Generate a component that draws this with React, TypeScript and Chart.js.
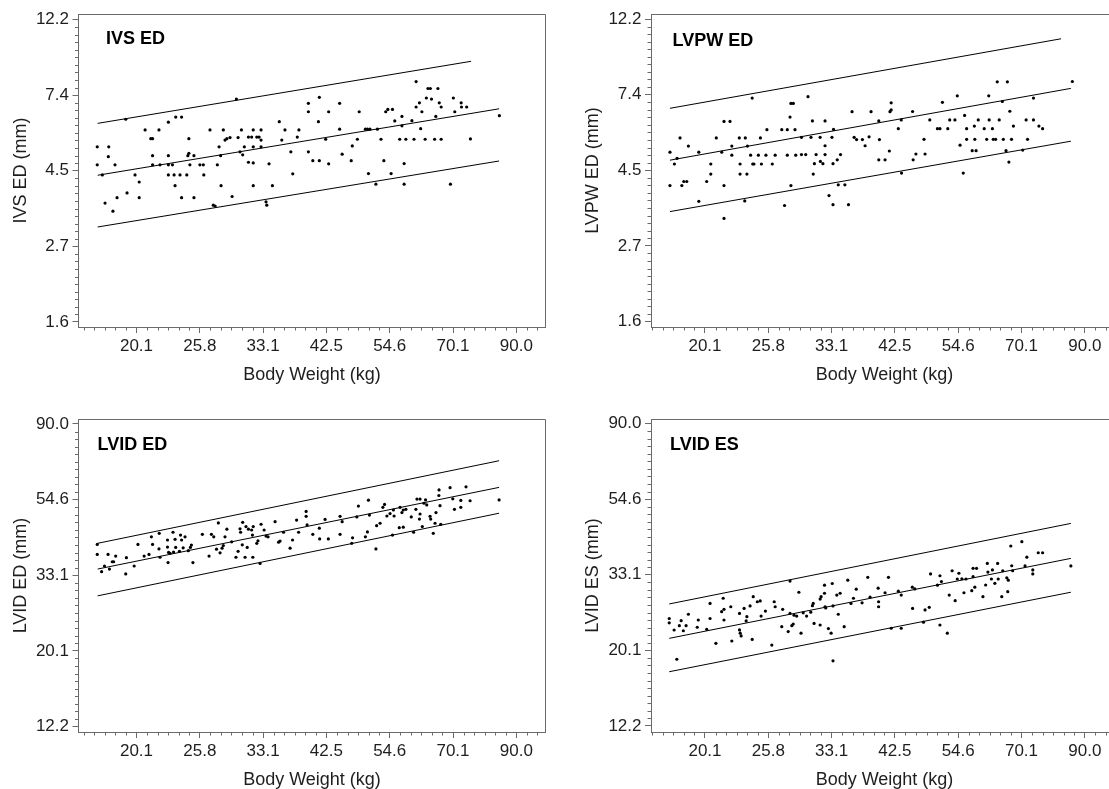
import React, { useEffect, useRef } from 'react';
import { Chart, registerables } from 'chart.js';

Chart.register(...registerables);

const FONT = '"Liberation Sans", Arial, Helvetica, sans-serif';
const AXIS_COLOR = '#6a6a6a';
const TEXT_COLOR = '#1e1e1e';

// Tick positions are natural-log steps; labels show exp(value) to one decimal
const X_TICK_LN = [3, 3.25, 3.5, 3.75, 4, 4.25, 4.5];
const WALL_Y_TICK_LN = [0.5, 1, 1.5, 2, 2.5];
const LVID_Y_TICK_LN = [2.5, 3, 3.5, 4, 4.5];
const X_MINOR_STEP = 0.25 / 6;
const Y_MINOR_STEP = 0.05;

const PANEL_TITLES = ['IVS ED', 'LVPW ED', 'LVID ED', 'LVID ES'];
const Y_TITLES = ['IVS ED (mm)', 'LVPW ED (mm)', 'LVID ED (mm)', 'LVID ES (mm)'];
const X_TITLE = 'Body Weight (kg)';

// [body weight kg, measurement mm]
const IVS_POINTS = [
  [17.2,5.25],[17.2,4.66],[18.0,5.25],[17.97,4.92],[17.55,4.36],[18.45,4.66],[17.74,3.62],[18.3,3.43],[18.6,3.75],[19.25,6.3],
  [19.97,4.36],[20.3,4.16],[19.35,3.87],[20.3,3.75],[20.78,5.87],[21.25,5.54],[21.4,5.54],[21.4,4.95],[21.4,4.66],[21.95,5.87],
  [22.04,4.66],[22.78,6.18],[23.45,6.39],[24.0,6.39],[22.78,4.95],[22.78,4.66],[22.78,4.36],[23.15,4.66],[23.39,4.06],[23.3,4.36],
  [23.85,4.36],[24.0,3.75],[24.5,4.36],[24.6,4.95],[24.7,5.03],[24.8,4.66],[24.7,5.54],[25.2,3.75],[25.2,4.95],[25.8,4.66],
  [26.15,4.66],[26.2,4.36],[26.85,5.87],[27.2,3.57],[27.4,3.55],[27.64,4.66],[27.83,5.25],[28.0,4.95],[28.05,4.06],[28.3,5.87],
  [28.49,5.49],[28.7,5.54],[29.06,5.58],[29.3,3.78],[29.8,7.2],[30.0,5.58],[30.4,5.87],[30.23,5.08],[30.55,4.98],[30.75,5.25],
  [31.25,5.6],[31.25,4.74],[31.65,5.6],[31.85,5.87],[31.85,5.25],[31.85,4.72],[31.85,4.06],[32.3,5.6],[32.6,5.6],[32.85,5.87],
  [32.85,5.25],[32.85,5.49],[33.5,3.65],[33.6,3.57],[33.9,4.69],[34.35,4.06],[35.3,6.2],[35.65,5.49],[36.1,5.87],[36.95,5.08],
  [37.23,4.39],[37.9,5.6],[38.15,5.87],[39.6,7.0],[39.6,6.62],[39.6,5.08],[40.3,4.79],[41.2,6.2],[41.35,7.28],[41.35,4.79],
  [42.4,5.52],[42.9,6.62],[42.9,4.69],[44.8,7.0],[44.8,5.9],[45.25,5.0],[46.9,4.79],[47.1,5.28],[48.05,5.52],[48.4,6.62],
  [49.6,5.9],[50.0,5.9],[50.5,5.9],[50.2,4.4],[51.7,4.1],[52.0,5.9],[52.75,5.52],[53.35,4.79],[53.75,6.62],[54.2,6.72],
  [54.9,4.4],[55.2,6.72],[55.7,6.23],[56.8,5.52],[57.3,6.42],[57.3,6.03],[57.8,4.7],[57.8,4.1],[58.2,5.52],[59.6,6.24],
  [60.1,5.52],[60.6,8.08],[60.6,6.83],[61.4,7.02],[61.7,5.92],[62.0,6.62],[62.8,5.52],[63.1,7.25],[63.5,7.72],[64.1,7.72],
  [64.4,7.2],[65.2,5.52],[65.5,6.42],[66.05,7.72],[66.4,7.02],[66.9,6.83],[66.9,5.52],[69.4,4.1],[70.2,7.25],[70.6,6.62],
  [72.4,7.02],[72.5,6.83],[74.0,6.83],[75.1,5.53],[84.2,6.45],
];
const IVS_UPPER = [[17.23, 6.13], [75.3, 9.24]];
const IVS_MIDDLE = [[17.23, 4.35], [84.1, 6.75]];
const IVS_LOWER = [[17.23, 3.09], [84.1, 4.78]];

const LVPW_POINTS = [
  [17.49,5.05],[17.49,4.05],[17.8,4.67],[17.99,4.85],[18.2,5.55],[18.33,4.05],[18.47,4.16],[18.69,4.16],[18.81,5.26],[19.6,5.05],
  [19.6,3.65],[20.22,4.16],[20.55,4.67],[20.55,4.37],[21.0,5.55],[21.46,5.05],[21.65,6.19],[21.65,4.05],[21.65,3.26],[22.17,6.19],
  [22.33,5.26],[22.33,4.95],[23.0,5.55],[23.07,4.67],[23.07,4.37],[23.55,5.55],[23.5,3.66],[23.7,4.37],[23.75,5.26],[24.05,4.95],
  [24.2,7.22],[24.25,4.67],[24.37,4.67],[24.8,4.95],[25.0,5.55],[25.1,4.67],[25.55,4.95],[25.65,5.86],[26.2,4.67],[26.5,4.95],
  [27.2,5.86],[27.5,3.55],[27.8,5.86],[27.8,4.95],[28.1,6.37],[28.2,6.97],[28.2,4.05],[28.47,6.97],[28.66,5.86],[28.74,4.95],
  [29.4,5.57],[29.4,4.97],[29.9,4.97],[30.17,7.29],[30.53,5.57],[30.7,6.21],[30.8,4.37],[30.94,4.68],[31.15,4.97],[31.65,5.57],
  [31.68,4.75],[32.0,4.68],[32.27,6.21],[32.27,5.27],[32.27,4.97],[32.78,3.79],[33.16,5.57],[33.3,4.68],[33.3,3.57],[33.37,5.87],
  [33.86,4.8],[34.0,4.07],[34.3,4.97],[34.9,4.07],[35.4,3.57],[35.9,6.6],[36.2,5.57],[36.55,5.49],[37.4,5.49],[37.8,5.27],
  [38.4,5.59],[38.7,6.6],[39.9,6.21],[40.0,5.49],[39.9,4.8],[40.9,4.8],[41.7,6.6],[41.6,5.09],[41.9,7.0],[41.9,6.68],
  [43.1,5.9],[43.6,6.25],[43.65,4.4],[45.6,6.61],[45.7,4.8],[46.2,4.99],[47.7,5.5],[47.9,4.99],[48.8,6.25],[50.3,5.9],
  [50.8,5.9],[51.3,7.02],[52.4,5.9],[52.8,6.25],[53.9,6.25],[54.4,7.33],[55.0,5.29],[55.7,4.4],[56.0,6.44],[56.45,5.9],
  [56.45,5.5],[57.7,5.1],[58.2,6.0],[58.3,5.5],[58.6,5.1],[59.1,6.25],[60.5,5.9],[61.1,5.5],[61.7,6.25],[61.6,7.33],
  [62.5,5.9],[62.7,5.5],[63.3,5.5],[63.7,8.04],[64.2,6.25],[65.0,7.06],[65.25,5.5],[65.95,5.1],[66.7,4.73],[66.3,8.04],
  [66.95,6.62],[67.4,5.5],[67.9,6.0],[70.45,5.12],[71.4,6.25],[71.8,5.5],[73.5,6.25],[73.5,7.22],[75.1,6.0],[76.2,5.9],
  [85.7,8.06],
];
const LVPW_UPPER = [[17.49, 6.75], [81.95, 10.69]];
const LVPW_MIDDLE = [[17.49, 4.79], [85.2, 7.7]];
const LVPW_LOWER = [[17.49, 3.41], [85.2, 5.43]];

const LVIDD_POINTS = [
  [17.2,40.6],[17.2,38.0],[17.5,33.9],[17.7,35.2],[17.95,38.0],[18.05,34.5],[18.25,36.2],[18.35,36.2],[18.5,37.6],[19.25,33.4],
  [19.3,37.2],[19.9,35.2],[20.2,40.6],[20.7,37.6],[21.1,38.0],[21.3,42.7],[21.4,40.6],[21.95,39.4],[21.97,43.7],[22.04,37.3],
  [22.7,41.8],[22.7,39.9],[22.75,36.0],[22.8,38.5],[22.93,38.3],[23.2,44.0],[23.25,38.6],[23.39,42.0],[23.45,39.8],[23.8,38.8],
  [23.9,43.2],[24.0,41.8],[24.15,39.7],[24.33,42.7],[24.65,38.95],[24.85,39.8],[24.95,40.45],[25.1,36.0],[26.05,43.4],[26.75,37.6],
  [27.0,43.4],[27.25,42.7],[27.55,39.35],[27.75,46.8],[27.94,38.4],[28.16,39.6],[28.3,40.3],[28.49,42.7],[28.7,44.9],[29.25,41.3],
  [29.75,37.3],[30.0,38.8],[30.23,45.0],[30.3,44.0],[30.5,40.5],[30.55,47.0],[30.84,37.3],[30.95,45.7],[31.1,39.8],[31.25,44.9],
  [31.65,44.67],[31.75,43.2],[31.8,37.3],[31.85,45.7],[32.3,40.9],[32.45,41.6],[32.72,35.8],[32.85,46.4],[33.25,44.67],[33.5,42.9],
  [33.77,42.7],[34.72,47.2],[35.2,41.2],[35.41,41.5],[35.9,44.0],[36.84,39.6],[37.2,41.8],[37.8,47.7],[38.1,44.0],[39.25,50.5],
  [39.25,48.9],[39.4,46.2],[40.3,43.4],[41.35,45.2],[41.4,42.1],[42.3,47.9],[42.85,42.1],[44.88,48.9],[44.88,43.4],[45.25,47.2],
  [47.0,40.9],[47.15,42.4],[47.95,48.7],[48.25,52.3],[49.6,42.7],[50.0,44.1],[50.2,54.4],[50.4,49.3],[51.7,39.4],[51.85,45.95],
  [52.56,46.7],[53.15,51.9],[53.5,52.9],[54.0,49.0],[54.67,49.8],[55.2,43.2],[55.4,50.98],[55.55,49.0],[56.7,45.35],[56.88,51.9],
  [57.3,50.1],[57.6,45.5],[57.6,50.98],[58.2,51.2],[59.45,48.7],[60.0,44.0],[60.55,51.2],[60.8,54.8],[61.55,54.8],[61.55,49.65],
  [61.4,48.0],[62.1,45.7],[62.5,53.3],[62.9,54.5],[63.2,52.7],[64.03,48.9],[64.2,48.0],[64.85,43.7],[65.3,46.7],[65.55,50.1],
  [66.3,56.1],[66.35,58.2],[66.6,52.45],[66.8,46.4],[69.3,59.1],[70.05,54.9],[70.5,51.2],[72.3,54.3],[72.3,51.9],[73.8,59.4],
  [75.0,54.2],[84.1,54.5],
];
const LVIDD_UPPER = [[17.23, 40.9], [84.1, 70.6]];
const LVIDD_MIDDLE = [[17.23, 34.5], [84.1, 59.2]];
const LVIDD_LOWER = [[17.23, 28.9], [84.1, 49.9]];

const LVIDS_POINTS = [
  [17.44,24.8],[17.44,24.1],[17.78,22.98],[17.97,18.94],[18.15,23.65],[18.28,24.45],[18.44,22.87],[18.64,23.65],[18.81,25.5],[19.48,23.4],
  [19.56,24.55],[20.22,23.09],[20.49,27.4],[20.49,24.8],[20.97,21.04],[21.45,25.95],[21.58,28.35],[21.65,26.35],[21.65,24.55],[22.24,26.8],
  [22.33,21.37],[23.02,25.65],[23.02,23.0],[23.08,22.5],[23.17,22.1],[23.44,26.5],[23.63,24.4],[23.7,25.1],[24.0,26.95],[24.2,21.6],
  [24.3,28.65],[24.7,27.7],[24.98,27.85],[25.07,25.2],[25.5,26.05],[26.15,20.8],[26.4,27.7],[26.5,26.8],[27.2,23.5],[27.3,26.35],
  [27.9,22.75],[28.1,31.75],[28.1,25.65],[28.3,23.65],[28.46,23.9],[28.55,25.35],[28.85,25.2],[29.1,29.5],[29.35,22.5],[29.6,25.75],
  [30.0,25.2],[30.5,25.85],[30.7,27.0],[30.9,24.0],[30.8,27.4],[31.65,23.75],[31.65,28.2],[31.77,28.65],[32.2,30.9],[32.2,29.3],
  [32.27,26.8],[32.36,26.6],[32.7,23.2],[33.05,22.5],[33.2,31.25],[33.3,26.95],[33.3,18.75],[33.8,28.96],[34.0,25.5],[34.25,29.3],
  [34.8,23.5],[35.3,31.95],[35.75,27.4],[36.1,28.35],[36.5,30.1],[37.35,27.5],[38.2,32.55],[38.55,28.55],[39.8,30.3],[39.87,27.7],
  [39.87,26.8],[40.9,29.4],[41.45,32.55],[41.9,23.25],[43.6,23.25],[43.1,29.7],[43.6,28.96],[45.55,30.5],[45.6,26.5],[46.0,30.15],
  [47.6,24.2],[47.9,26.25],[48.7,26.7],[48.95,33.3],[50.3,30.9],[50.8,32.9],[50.8,23.75],[51.1,31.65],[52.3,22.5],[52.7,28.96],
  [53.3,34.0],[53.95,27.9],[54.4,32.2],[54.75,33.45],[55.4,32.25],[55.85,29.4],[56.3,32.2],[57.6,29.8],[57.9,32.7],[57.9,34.55],
  [58.3,30.5],[58.7,34.55],[60.2,28.65],[60.85,30.95],[61.25,35.7],[61.4,33.7],[62.25,32.2],[62.5,34.2],[63.1,31.3],[63.8,35.7],
  [63.95,32.2],[64.85,28.65],[65.1,34.0],[66.15,32.45],[66.4,29.6],[66.55,31.95],[67.2,40.05],[67.45,35.15],[67.7,34.0],[70.2,41.2],
  [71.1,35.1],[71.6,37.2],[73.3,34.2],[73.3,33.3],[74.9,38.3],[76.2,38.3],[85.2,35.1],
];
const LVIDS_UPPER = [[17.44, 27.3], [85.2, 46.5]];
const LVIDS_MIDDLE = [[17.44, 21.75], [85.2, 36.9]];
const LVIDS_LOWER = [[17.44, 17.44], [85.2, 29.5]];

interface PanelCfg {
  title: string;
  yTitle: string;
  points: number[][];
  upper: number[][];
  middle: number[][];
  lower: number[][];
  yTicksLn: number[];
  xMin: number;
  xMax: number;
  yMin: number;
  yMax: number;
  left: number;
  top: number;
  width: number;
  axisWidth: number;
  padRight: number;
  labelDx: number;
  labelDy: number;
}

const CANVAS_H = 395;

const PANELS: PanelCfg[] = [
  {
    title: PANEL_TITLES[0], yTitle: Y_TITLES[0], points: IVS_POINTS,
    upper: IVS_UPPER, middle: IVS_MIDDLE, lower: IVS_LOWER, yTicksLn: WALL_Y_TICK_LN,
    xMin: 15.973, xMax: 101.02, yMin: 1.5951, yMax: 12.633,
    left: 0, top: 0, width: 573, axisWidth: 78.5, padRight: 27.5, labelDx: 27.5, labelDy: 30,
  },
  {
    title: PANEL_TITLES[1], yTitle: Y_TITLES[1], points: LVPW_POINTS,
    upper: LVPW_UPPER, middle: LVPW_MIDDLE, lower: LVPW_LOWER, yTicksLn: WALL_Y_TICK_LN,
    xMin: 16.228, xMax: 102.63, yMin: 1.5898, yMax: 12.592,
    left: 572, top: 0, width: 560, axisWidth: 79, padRight: 14, labelDx: 21.5, labelDy: 32,
  },
  {
    title: PANEL_TITLES[2], yTitle: Y_TITLES[2], points: LVIDD_POINTS,
    upper: LVIDD_UPPER, middle: LVIDD_MIDDLE, lower: LVIDD_LOWER, yTicksLn: LVID_Y_TICK_LN,
    xMin: 15.973, xMax: 101.02, yMin: 11.747, yMax: 93.04,
    left: 0, top: 405, width: 573, axisWidth: 78.5, padRight: 27.5, labelDx: 19, labelDy: 31,
  },
  {
    title: PANEL_TITLES[3], yTitle: Y_TITLES[3], points: LVIDS_POINTS,
    upper: LVIDS_UPPER, middle: LVIDS_MIDDLE, lower: LVIDS_LOWER, yTicksLn: LVID_Y_TICK_LN,
    xMin: 16.228, xMax: 102.63, yMin: 11.708, yMax: 92.74,
    left: 572, top: 405, width: 560, axisWidth: 79, padRight: 14, labelDx: 19, labelDy: 31,
  },
];

function PanelChart({ cfg }: { cfg: PanelCfg }) {
  const ref = useRef<HTMLCanvasElement | null>(null);

  useEffect(() => {
    const canvas = ref.current;
    if (!canvas) return;
    const toXY = (arr: number[][]) => arr.map(([x, y]) => ({ x, y }));

    const decor = {
      id: 'decor',
      afterDraw(chart: any) {
        const { ctx, chartArea: a, scales } = chart;
        const xs = scales.x;
        const ys = scales.y;
        ctx.save();
        ctx.strokeStyle = AXIS_COLOR;
        ctx.lineWidth = 1;
        ctx.beginPath();
        const topY = Math.round(a.top) + 0.5;
        const rightX = Math.floor(a.right) + 0.5;
        const bottomY = Math.round(a.bottom) + 0.5;
        const leftX = Math.round(a.left - 0.5) + 0.5;
        ctx.moveTo(leftX, topY);
        ctx.lineTo(rightX, topY);
        ctx.lineTo(rightX, bottomY);
        // minor ticks on x
        for (let k = -24; k <= 60; k++) {
          if (k % 6 === 0) continue;
          const v = Math.exp(X_TICK_LN[0] + k * X_MINOR_STEP);
          if (v < xs.min || v > xs.max) continue;
          const px = Math.round(xs.getPixelForValue(v)) + 0.5;
          ctx.moveTo(px, a.bottom);
          ctx.lineTo(px, a.bottom + 3.5);
        }
        // minor ticks on y
        for (let k = -10; k <= 50; k++) {
          if (k % 10 === 0) continue;
          const v = Math.exp(cfg.yTicksLn[0] + k * Y_MINOR_STEP);
          if (v < ys.min || v > ys.max) continue;
          const py = Math.round(ys.getPixelForValue(v)) + 0.5;
          ctx.moveTo(a.left - 3.5, py);
          ctx.lineTo(a.left, py);
        }
        ctx.stroke();
        ctx.fillStyle = '#000';
        ctx.font = `bold 18px ${FONT}`;
        ctx.textAlign = 'left';
        ctx.textBaseline = 'alphabetic';
        ctx.fillText(cfg.title, a.left + cfg.labelDx, a.top + cfg.labelDy);
        ctx.restore();
      },
    };

    const lineDs = (d: number[][]) => ({
      data: toXY(d),
      showLine: true,
      borderColor: '#000',
      borderWidth: 1,
      pointRadius: 0,
      pointHoverRadius: 0,
      fill: false,
      tension: 0,
    });

    const chart = new Chart(canvas, {
      type: 'scatter',
      data: {
        datasets: [
          {
            data: toXY(cfg.points),
            showLine: false,
            pointRadius: 1.6,
            pointHoverRadius: 1.6,
            pointBackgroundColor: '#000',
            pointBorderColor: '#000',
            pointBorderWidth: 0,
          } as any,
          lineDs(cfg.upper) as any,
          lineDs(cfg.middle) as any,
          lineDs(cfg.lower) as any,
        ],
      },
      options: {
        responsive: false,
        animation: false,
        events: [],
        layout: { padding: { top: 14, right: cfg.padRight, bottom: 0, left: 0 } },
        plugins: { legend: { display: false }, tooltip: { enabled: false } },
        scales: {
          x: {
            type: 'logarithmic',
            position: 'bottom',
            min: cfg.xMin,
            max: cfg.xMax,
            bounds: 'data',
            afterBuildTicks: (s: any) => {
              s.ticks = X_TICK_LN.map((l) => ({ value: Math.exp(l) }));
            },
            afterFit: (s: any) => {
              s.height = CANVAS_H - 327;
            },
            ticks: {
              autoSkip: false,
              maxRotation: 0,
              minRotation: 0,
              padding: 3,
              color: TEXT_COLOR,
              font: { size: 17, family: FONT },
              callback: (v: any) => Number(v).toFixed(1),
            },
            grid: {
              display: true,
              drawOnChartArea: false,
              drawTicks: true,
              tickLength: 6,
              color: AXIS_COLOR,
              tickColor: AXIS_COLOR,
            },
            border: { display: true, color: AXIS_COLOR, width: 1 },
            title: {
              display: true,
              text: X_TITLE,
              color: TEXT_COLOR,
              font: { size: 18, family: FONT },
              padding: { top: 0, bottom: 9 },
            },
          } as any,
          y: {
            type: 'logarithmic',
            position: 'left',
            min: cfg.yMin,
            max: cfg.yMax,
            bounds: 'data',
            afterBuildTicks: (s: any) => {
              s.ticks = cfg.yTicksLn.map((l) => ({ value: Math.exp(l) }));
            },
            afterFit: (s: any) => {
              s.width = cfg.axisWidth;
            },
            ticks: {
              autoSkip: false,
              padding: 3.5,
              color: TEXT_COLOR,
              font: { size: 17, family: FONT },
              callback: (v: any) => Number(v).toFixed(1),
            },
            grid: {
              display: true,
              drawOnChartArea: false,
              drawTicks: true,
              tickLength: 6,
              color: AXIS_COLOR,
              tickColor: AXIS_COLOR,
            },
            border: { display: true, color: AXIS_COLOR, width: 1 },
            title: {
              display: true,
              text: cfg.yTitle,
              color: TEXT_COLOR,
              font: { size: 18, family: FONT },
              padding: { top: 10.5, bottom: 0 },
            },
          } as any,
        },
      },
      plugins: [decor as any],
    });

    return () => {
      chart.destroy();
    };
  }, [cfg]);

  return (
    <canvas
      ref={ref}
      width={cfg.width}
      height={CANVAS_H}
      style={{ position: 'absolute', left: cfg.left, top: cfg.top, width: cfg.width, height: CANVAS_H }}
    />
  );
}

export default function App() {
  return (
    <div
      style={{
        position: 'fixed',
        left: 0,
        top: 0,
        width: 1109,
        height: 789,
        overflow: 'hidden',
        background: '#fff',
      }}
    >
      {PANELS.map((p) => (
        <PanelChart key={p.title} cfg={p} />
      ))}
    </div>
  );
}
